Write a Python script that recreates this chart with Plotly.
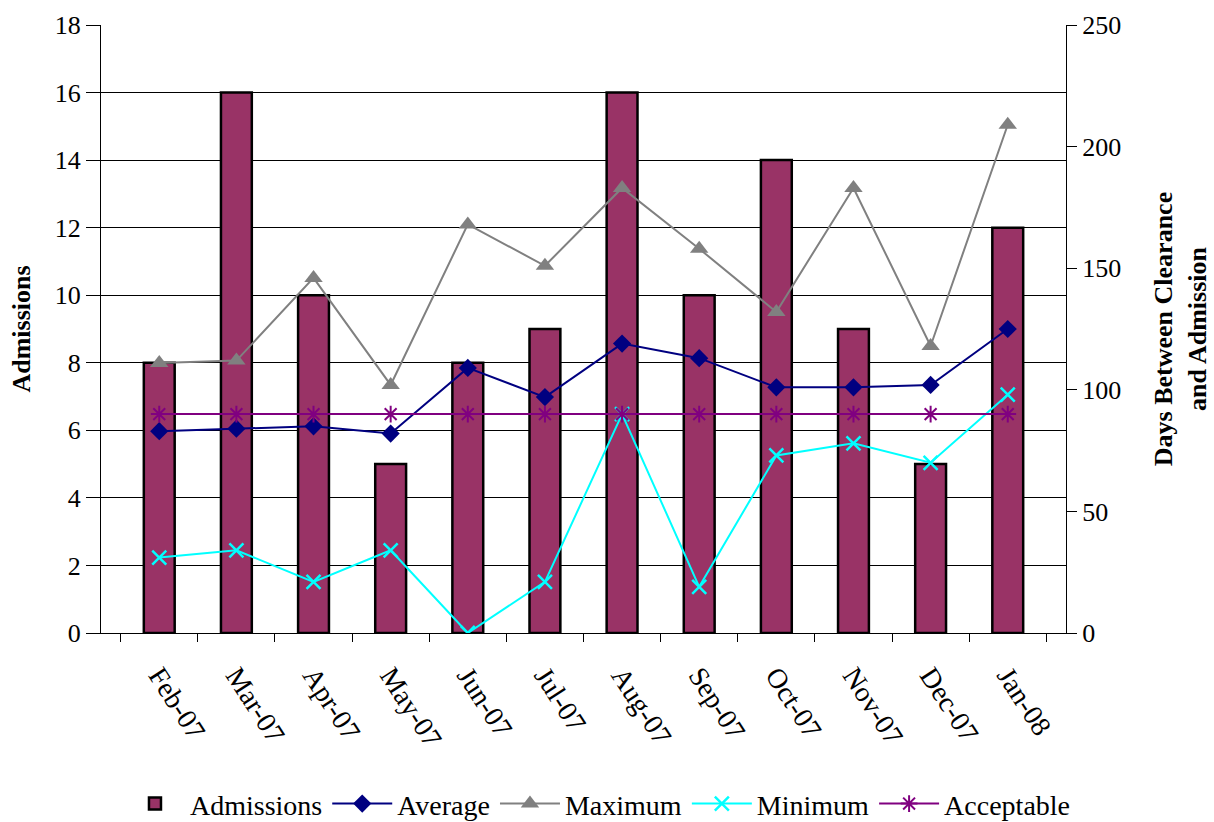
import plotly.graph_objects as go

months = ["Feb-07", "Mar-07", "Apr-07", "May-07", "Jun-07", "Jul-07",
          "Aug-07", "Sep-07", "Oct-07", "Nov-07", "Dec-07", "Jan-08"]
admissions = [8, 16, 10, 5, 8, 9, 16, 10, 14, 9, 5, 12]
average_days = [83, 84, 85, 82, 109, 97, 119, 113, 101, 101, 102, 125]
maximum_days = [111, 112, 146, 102, 168, 151, 183, 158, 132, 183, 118, 209]
minimum_days = [31, 34, 21, 34, 0, 21, 90, 19, 73, 78, 70, 98]
acceptable_days = [90] * 12

FONT = "Liberation Serif, Times New Roman, serif"

fig = go.Figure()

fig.add_trace(go.Bar(
    x=months, y=admissions, name="Admissions",
    marker=dict(color="#993366", line=dict(color="black", width=2.5)),
    width=0.4, yaxis="y",
))

line_series = [
    ("Average", average_days, "#000080", "diamond", 14, None),
    ("Maximum", maximum_days, "#808080", "triangle-up", 16, None),
    ("Minimum", minimum_days, "#00FFFF", "x-thin-open", 14, 2.5),
    ("Acceptable", acceptable_days, "#800080", "asterisk-open", 14, 2),
]
for name, vals, color, symbol, size, mlw in line_series:
    marker = dict(symbol=symbol, size=size, color=color)
    if mlw:
        marker["line"] = dict(color=color, width=mlw)
    fig.add_trace(go.Scatter(
        x=months, y=vals, name=name, mode="lines+markers",
        line=dict(color=color, width=2), marker=marker, yaxis="y2",
    ))

fig.update_layout(
    width=1214, height=822,
    margin=dict(l=101, r=148, t=25, b=189, autoexpand=False),
    paper_bgcolor="white", plot_bgcolor="white",
    font=dict(family=FONT, size=26, color="black"),
    showlegend=True,
    legend=dict(
        orientation="h", x=0.515, xanchor="center",
        yref="container", y=0.022, yanchor="middle",
        font=dict(family=FONT, size=28), itemwidth=60, tracegroupgap=0,
        traceorder="normal",
    ),
    xaxis=dict(
        type="category", tickangle=57, showline=True, linecolor="black",
        linewidth=1, ticks="outside", ticklen=8, tickcolor="black",
        tickson="boundaries", showgrid=False, automargin=False,
        ticklabelstandoff=14,
        tickfont=dict(family=FONT, size=28),
    ),
    yaxis=dict(
        range=[0, 18], dtick=2, showline=True, linecolor="black", linewidth=1,
        ticks="outside", ticklen=14, tickcolor="black", automargin=False,
        showgrid=True, gridcolor="black", gridwidth=1, zeroline=False,
        title=dict(text="<b>Admissions</b>", font=dict(family=FONT, size=26),
                   standoff=16),
        tickfont=dict(family=FONT, size=26),
    ),
    yaxis2=dict(
        range=[0, 250], dtick=50, overlaying="y", side="right",
        showline=True, linecolor="black", linewidth=1, automargin=False,
        ticks="outside", ticklen=10, tickcolor="black",
        showgrid=False, zeroline=False,
        title=dict(text="<b>Days Between Clearance<br>and Admission</b>",
                   font=dict(family=FONT, size=26), standoff=33),
        tickfont=dict(family=FONT, size=26),
    ),
)

fig.write_html("out.html")
